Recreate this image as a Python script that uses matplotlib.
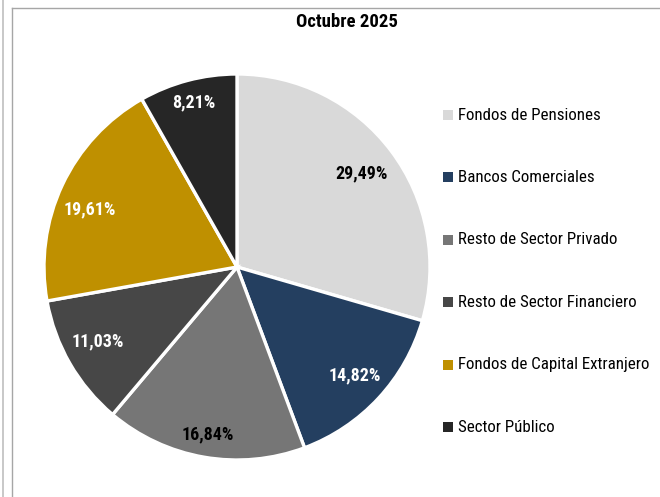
import matplotlib
matplotlib.use("Agg")
import matplotlib.pyplot as plt
from matplotlib.patches import Rectangle
from matplotlib import font_manager
import numpy as np

names = {f.name for f in font_manager.fontManager.ttflist}
FONT = 'Liberation Sans'
for cand in ['Liberation Sans Narrow', 'Arial Narrow', 'Roboto Condensed', 'Archivo Narrow', 'PT Sans Narrow']:
    if cand in names:
        FONT = cand
        break
plt.rcParams['font.family'] = [FONT, 'DejaVu Sans']

categories = ["Fondos de Pensiones", "Bancos Comerciales", "Resto de Sector Privado",
              "Resto de Sector Financiero", "Fondos de Capital Extranjero", "Sector Público"]
values = [29.49, 14.82, 16.84, 11.03, 19.61, 8.21]
labels = ["29,49%", "14,82%", "16,84%", "11,03%", "19,61%", "8,21%"]
colors = ["#D9D9D9", "#243F60", "#767676", "#474747", "#BF9000", "#262626"]
label_colors = ["black", "white", "black", "white", "white", "white"]
title = "Octubre 2025"

W, H = 660, 497
fig = plt.figure(figsize=(W / 100, H / 100), dpi=100)

# frame lines
fig.add_artist(plt.Line2D([2.5 / W, 2.5 / W], [0, 1], color="#BFBFBF", lw=1.2))
fig.add_artist(plt.Line2D([11.5 / W, 11.5 / W], [0, 1 - 7.5 / H], color="#A6A6A6", lw=1.0))
fig.add_artist(plt.Line2D([11.5 / W, 1], [1 - 7.5 / H, 1 - 7.5 / H], color="#A6A6A6", lw=1.0))

cx, cy, r = 237, 267, 193
ax = fig.add_axes([(cx - r) / W, 1 - (cy + r) / H, 2 * r / W, 2 * r / H])
wedges, _ = ax.pie(values, colors=colors, startangle=90, counterclock=False,
                   wedgeprops=dict(edgecolor="white", linewidth=2.4))
cum = np.cumsum([0] + values[:-1])
total = sum(values)
dists = [0.81, 0.83, 0.88, 0.82, 0.82, 0.88]
shift = [0, 0, 0, -2, 4, 0]  # small angular nudges (deg) to mimic label placement
for i, (v, c0) in enumerate(zip(values, cum)):
    ang = np.deg2rad(90 - 360 * (c0 + v / 2) / total + shift[i])
    d = dists[i]
    ax.text(d * np.cos(ang), d * np.sin(ang), labels[i], ha="center", va="center",
            fontsize=13, fontweight="bold", color=label_colors[i])
ax.set_xlim(-1, 1)
ax.set_ylim(-1, 1)
ax.set_aspect("equal")
ax.axis("off")

fig.text(347 / W, 1 - 22 / H, title, ha="center", va="center", fontsize=13.5, fontweight="bold")

# legend
y0, dy = 115, 62.4
for i, (cat, col) in enumerate(zip(categories, colors)):
    y = y0 + i * dy
    fig.add_artist(Rectangle((443 / W, 1 - (y + 5) / H), 10 / W, 10 / H, facecolor=col,
                             edgecolor="none", transform=fig.transFigure))
    fig.text(458 / W, 1 - y / H, cat, ha="left", va="center", fontsize=12.2)

fig.savefig("out.png", dpi=100)
